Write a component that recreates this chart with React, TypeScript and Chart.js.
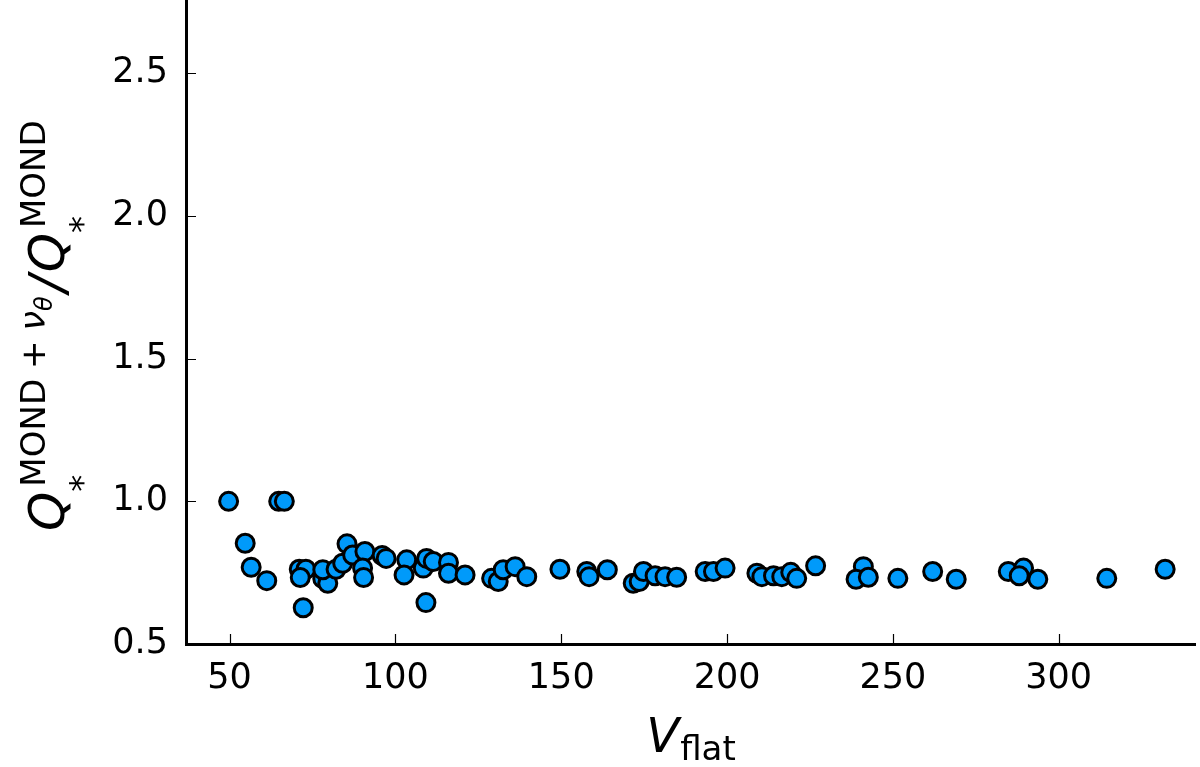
import React, { useEffect, useRef } from "react";
import { Chart, registerables } from "chart.js";

Chart.register(...registerables);

const vFlat = [
  49.7, 64.8, 66.5, 54.7, 56.5, 61.2, 71.0, 73.0, 71.3, 72.2,
  78.1, 79.6, 78.1, 82.1, 84.1, 85.4, 87.1, 90.8, 90.1, 90.4,
  96.0, 97.2, 103.4, 102.6, 108.4, 109.4, 111.4, 116.0, 116.0, 121.0,
  109.2, 129.0, 131.0, 132.5, 136.1, 139.6, 149.6, 157.7, 158.4, 163.9,
  171.7, 173.5, 174.8, 178.3, 181.3, 184.8, 193.4, 195.9, 199.4, 209.0,
  210.5, 214.0, 216.5, 219.2, 221.0, 226.7, 241.1, 238.9, 242.6, 251.5,
  262.0, 269.1, 284.8, 289.4, 288.1, 293.7, 314.5, 332.1,
];
const qRatio = [
  1.0, 1.0, 1.0, 0.853, 0.769, 0.722, 0.762, 0.762, 0.733, 0.627,
  0.729, 0.713, 0.76, 0.762, 0.783, 0.851, 0.812, 0.824, 0.766, 0.733,
  0.81, 0.8, 0.795, 0.742, 0.766, 0.8, 0.789, 0.786, 0.748, 0.742,
  0.645, 0.73, 0.719, 0.76, 0.771, 0.736, 0.762, 0.754, 0.736, 0.76,
  0.713, 0.719, 0.754, 0.739, 0.736, 0.734, 0.754, 0.754, 0.766, 0.748,
  0.736, 0.739, 0.736, 0.751, 0.73, 0.774, 0.771, 0.727, 0.734, 0.73,
  0.754, 0.727, 0.754, 0.766, 0.739, 0.727, 0.73, 0.762,
];
const xTicks = [50, 100, 150, 200, 250, 300];
const yTicks = [0.5, 1.0, 1.5, 2.0, 2.5];

const FAM = '"DejaVu Sans"';

const decorPlugin = {
  id: "decor",
  afterDraw(chart: any) {
    const ctx = chart.ctx as CanvasRenderingContext2D;
    const xs = chart.scales.x;
    const ys = chart.scales.y;
    const area = chart.chartArea;
    ctx.save();
    // inward ticks
    ctx.strokeStyle = "#000";
    ctx.lineWidth = 1.2;
    ctx.beginPath();
    for (const t of xs.ticks) {
      const px = Math.round(xs.getPixelForValue(t.value)) + 0.5;
      ctx.moveTo(px, area.bottom);
      ctx.lineTo(px, area.bottom - 10);
    }
    for (const t of ys.ticks) {
      const py = Math.round(ys.getPixelForValue(t.value)) + 0.5;
      ctx.moveTo(area.left, py);
      ctx.lineTo(area.left + 10, py);
    }
    ctx.stroke();

    ctx.fillStyle = "#000";
    ctx.textAlign = "left";
    ctx.textBaseline = "alphabetic";

    // x title: V_flat
    const vFont = `italic 48px ${FAM}`;
    const fFont = `34px ${FAM}`;
    ctx.font = vFont;
    const wV = ctx.measureText("V").width;
    ctx.font = fFont;
    const wF = ctx.measureText("flat").width;
    const cx = (area.left + area.right) / 2;
    const x0 = cx - (wV + wF) / 2;
    ctx.font = vFont;
    ctx.fillText("V", x0, 752);
    ctx.font = fFont;
    ctx.fillText("flat", x0 + wV + 1, 760);

    // y title
    ctx.translate(64, 531);
    ctx.rotate(-Math.PI / 2);
    const qFont = `italic 50px ${FAM}`;
    const sFont = `34px ${FAM}`;
    const siFont = `italic 35px ${FAM}`;
    const ssFont = `italic 24px ${FAM}`;
    let x = 0;
    const put = (txt: string, font: string, dy: number) => {
      ctx.font = font;
      ctx.fillText(txt, x, dy);
      return ctx.measureText(txt).width;
    };
    // Q_*^{MOND + nu_theta}
    x += put("Q", qFont, 0);
    let xs0 = x;
    put("*", sFont, 30);
    x = xs0 + 5;
    x += put("MOND", sFont, -19);
    x += 10;
    x += put("+", sFont, -19);
    x += 10;
    x += put("ν", siFont, -19);
    x += put("θ", ssFont, -12);
    x += 4;
    x += put("/", qFont, 0);
    x += 3;
    x += put("Q", qFont, 0);
    xs0 = x;
    put("*", sFont, 30);
    x = xs0 + 5;
    x += put("MOND", sFont, -19);
    ctx.restore();
  },
};

export default function App() {
  const ref = useRef<HTMLCanvasElement>(null);
  useEffect(() => {
    if (!ref.current) return;
    const data = vFlat.map((v, i) => ({ x: v, y: qRatio[i] }));
    const chart = new Chart(ref.current, {
      type: "scatter",
      data: {
        datasets: [
          {
            data,
            backgroundColor: "#009AFA",
            borderColor: "#000000",
            borderWidth: 3,
            pointRadius: 9,
            pointHoverRadius: 9,
          },
        ],
      },
      options: {
        animation: false,
        responsive: true,
        maintainAspectRatio: false,
        events: [],
        layout: { autoPadding: false, padding: { left: 0, top: 1, right: 5, bottom: 0 } },
        plugins: { legend: { display: false }, tooltip: { enabled: false } },
        scales: {
          x: {
            type: "linear",
            min: 36.85,
            max: 341.1,
            afterBuildTicks: (s: any) => {
              s.ticks = xTicks.map((v) => ({ value: v }));
            },
            afterFit: (s: any) => {
              s.height = 123;
              s.paddingLeft = 0;
              s.paddingRight = 0;
            },
            grid: { display: false, drawTicks: false },
            border: { display: true, color: "#000", width: 3 },
            ticks: {
              color: "#000",
              font: { family: "DejaVu Sans", size: 35 },
              padding: 14,
              maxRotation: 0,
              callback: (v: any) => String(v),
            },
          },
          y: {
            type: "linear",
            min: 0.5,
            max: 2.753,
            afterBuildTicks: (s: any) => {
              s.ticks = yTicks.map((v) => ({ value: v }));
            },
            afterFit: (s: any) => {
              s.width = 186;
              s.paddingTop = 0;
              s.paddingBottom = 0;
            },
            grid: { display: false, drawTicks: false },
            border: { display: true, color: "#000", width: 3 },
            ticks: {
              color: "#000",
              font: { family: "DejaVu Sans", size: 35 },
              padding: 18,
              callback: (v: any) => Number(v).toFixed(1),
            },
          },
        },
      },
      plugins: [decorPlugin],
    });
    return () => chart.destroy();
  }, []);
  return (
    <div
      style={{
        position: "absolute",
        left: 0,
        top: 0,
        width: 1200,
        height: 767,
        background: "#fff",
      }}
    >
      <canvas ref={ref} />
    </div>
  );
}
